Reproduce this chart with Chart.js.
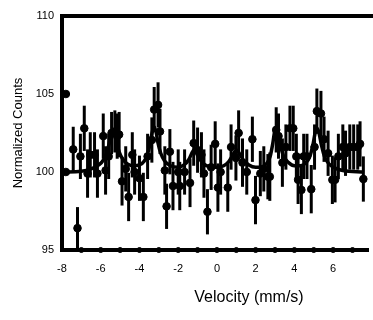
<!DOCTYPE html>
<html>
<head>
<meta charset="utf-8">
<script src="https://cdn.jsdelivr.net/npm/chart.js@4/dist/chart.umd.min.js"></script>
<style>
  html, body { margin: 0; padding: 0; background: #fff; }
  #wrap { width: 373px; height: 320px; }
</style>
</head>
<body>
<div id="wrap"><canvas id="moss" width="373" height="320"></canvas></div>
<script>
// measured points (velocity mm/s, normalized counts, error)
const velocity = [-7.8, -7.8, -7.42, -7.2, -7.05, -6.85, -6.68, -6.54, -6.32, -6.17, -5.87, -5.75, -5.59, -5.44, -5.27, -5.15, -5.05, -4.9, -4.71, -4.56, -4.37, -4.25, -4.0, -3.8, -3.58, -3.36, -3.24, -3.04, -2.94, -2.69, -2.6, -2.43, -2.27, -2.0, -1.92, -1.67, -1.39, -1.2, -1.0, -0.8, -0.67, -0.49, -0.3, -0.09, 0.05, 0.19, 0.56, 0.73, 0.98, 1.12, 1.32, 1.54, 1.83, 1.99, 2.24, 2.42, 2.63, 2.73, 3.06, 3.18, 3.38, 3.56, 3.77, 3.94, 4.1, 4.19, 4.36, 4.48, 4.65, 4.87, 5.04, 5.16, 5.37, 5.53, 5.74, 5.96, 6.1, 6.27, 6.5, 6.64, 6.86, 7.06, 7.27, 7.39, 7.56];
const counts = [105.0, 100.0, 101.45, 96.4, 101.0, 102.8, 99.9, 101.1, 101.1, 99.9, 102.3, 100.1, 101.0, 102.5, 102.6, 102.3, 102.4, 99.4, 100.2, 98.4, 101.1, 100.0, 99.6, 98.4, 101.0, 102.05, 104.0, 104.3, 102.6, 100.1, 97.8, 101.3, 99.1, 100.0, 99.1, 100.0, 99.3, 101.85, 101.4, 101.1, 99.9, 97.45, 100.3, 101.8, 99.0, 100.0, 99.0, 101.6, 100.9, 102.5, 100.6, 100.0, 102.1, 98.2, 99.9, 100.2, 99.7, 99.7, 102.7, 102.3, 100.6, 101.6, 102.8, 102.8, 101.0, 99.5, 98.85, 101.0, 101.0, 98.9, 101.6, 103.9, 103.75, 102.1, 101.2, 99.5, 99.5, 101.0, 101.6, 101.2, 101.6, 101.6, 101.6, 101.8, 99.55];
const countErr = [0, 0, 1.45, 1.35, 1.45, 1.45, 1.55, 1.45, 1.45, 1.55, 1.45, 1.55, 1.45, 1.35, 1.35, 1.45, 1.45, 1.55, 1.45, 1.55, 1.45, 1.45, 1.45, 1.55, 1.45, 1.45, 1.45, 1.45, 1.45, 1.55, 1.45, 1.45, 1.55, 1.45, 1.55, 1.45, 1.55, 1.45, 1.45, 1.45, 1.55, 1.45, 1.45, 1.45, 1.55, 1.45, 1.55, 1.45, 1.45, 1.45, 1.55, 1.45, 1.45, 1.55, 1.45, 1.45, 1.45, 1.55, 1.45, 1.45, 1.55, 1.45, 1.45, 1.45, 1.45, 1.55, 1.55, 1.45, 1.45, 1.55, 1.45, 1.45, 1.45, 1.45, 1.45, 1.55, 1.45, 1.45, 1.45, 1.45, 1.45, 1.45, 1.45, 1.45, 1.45];

// fitted curve
const fitVelocity = [-8, -7.0, -6.5, -6.1, -5.85, -5.65, -5.5, -5.4, -5.3, -5.2, -5.05, -4.85, -4.6, -4.3, -4.0, -3.75, -3.6, -3.45, -3.35, -3.25, -3.15, -3.05, -2.9, -2.7, -2.4, -2.0, -1.7, -1.45, -1.3, -1.2, -1.1, -0.95, -0.75, -0.4, 0.0, 0.35, 0.6, 0.8, 0.95, 1.05, 1.15, 1.35, 1.65, 2.0, 2.35, 2.6, 2.75, 2.88, 2.98, 3.05, 3.15, 3.28, 3.45, 3.7, 4.0, 4.3, 4.6, 4.8, 4.95, 5.07, 5.17, 5.27, 5.4, 5.55, 5.8, 6.1, 6.5, 7.6];
const fitCounts = [100.0, 100.05, 100.2, 100.45, 100.8, 101.4, 102.2, 102.7, 102.6, 102.0, 101.3, 100.8, 100.5, 100.4, 100.45, 100.7, 101.1, 101.8, 102.5, 102.9, 102.6, 101.9, 101.2, 100.7, 100.4, 100.3, 100.45, 100.8, 101.2, 101.4, 101.3, 100.95, 100.6, 100.35, 100.3, 100.4, 100.65, 101.05, 101.35, 101.4, 101.2, 100.8, 100.45, 100.3, 100.35, 100.6, 101.0, 101.8, 102.6, 102.8, 102.5, 101.7, 101.0, 100.6, 100.4, 100.4, 100.6, 101.0, 101.7, 102.5, 102.8, 102.5, 101.7, 101.0, 100.5, 100.25, 100.1, 100.0];

// marker dots along the bottom axis
const baseVelocity = [-7, -6, -5, -4, -3, -2, -1, 0, 1, 2, 3, 4, 5, 6, 7];
const baseCounts = [95, 95, 95, 95, 95, 95, 95, 95, 95, 95, 95, 95, 95, 95, 95];

const toXY = (xs, ys) => xs.map((x, i) => ({ x, y: ys[i] }));

const errorBars = {
  id: 'errorBars',
  beforeDatasetsDraw(chart) {
    const ctx = chart.ctx;
    const meta = chart.getDatasetMeta(0);
    const y = chart.scales.y;
    ctx.save();
    ctx.strokeStyle = '#000';
    ctx.lineWidth = 3;
    meta.data.forEach((pt, i) => {
      const e = countErr[i];
      if (!e) return;
      ctx.beginPath();
      ctx.moveTo(pt.x, y.getPixelForValue(counts[i] - e));
      ctx.lineTo(pt.x, y.getPixelForValue(counts[i] + e));
      ctx.stroke();
    });
    ctx.restore();
  }
};

const frame = {
  id: 'frame',
  afterDraw(chart) {
    const { ctx, chartArea } = chart;
    ctx.save();
    ctx.strokeStyle = '#000';
    ctx.lineWidth = 4;
    ctx.beginPath();
    ctx.moveTo(chartArea.left - 2, chartArea.top);
    ctx.lineTo(chart.width, chartArea.top);
    ctx.stroke();
    ctx.fillStyle = '#000';
    ctx.font = '16px "Liberation Sans", Arial, sans-serif';
    ctx.textAlign = 'center';
    ctx.textBaseline = 'middle';
    ctx.fillText('Velocity (mm/s)', 249, 298);
    ctx.restore();
  }
};

new Chart(document.getElementById('moss').getContext('2d'), {
  type: 'scatter',
  data: {
    datasets: [
      {
        data: toXY(velocity, counts),
        backgroundColor: '#000',
        borderColor: '#000',
        pointRadius: 3.8,
        pointHoverRadius: 3.8,
      },
      {
        type: 'line',
        data: toXY(fitVelocity, fitCounts),
        borderColor: '#000',
        borderWidth: 3.5,
        pointRadius: 0,
        cubicInterpolationMode: 'monotone',
        fill: false,
      },
      {
        data: toXY(baseVelocity, baseCounts),
        backgroundColor: '#000',
        borderColor: '#000',
        pointRadius: 2.5,
        clip: false,
      },
    ],
  },
  options: {
    responsive: false,
    animation: false,
    layout: { padding: { top: 16, right: 0, bottom: 0, left: 0 } },
    plugins: { legend: { display: false }, tooltip: { enabled: false } },
    scales: {
      x: {
        type: 'linear',
        min: -8,
        max: 7.8,
        grid: { display: false, drawTicks: false },
        border: { display: true, width: 4, color: '#000' },
        ticks: {
          stepSize: 2,
          includeBounds: false,
          padding: 12,
          color: '#000',
          font: { family: '"Liberation Sans", Arial, sans-serif', size: 11 },
        },
        afterFit(scale) { scale.height = 70; },
      },
      y: {
        min: 95,
        max: 110,
        grid: { display: false, drawTicks: false },
        border: { display: true, width: 4, color: '#000' },
        ticks: {
          stepSize: 5,
          padding: 8,
          color: '#000',
          font: { family: '"Liberation Sans", Arial, sans-serif', size: 11 },
        },
        title: {
          display: true,
          text: 'Normalized Counts',
          color: '#000',
          padding: { top: 11, bottom: 0 },
          font: { family: '"Liberation Sans", Arial, sans-serif', size: 13 },
        },
        afterFit(scale) { scale.width = 62; },
      },
    },
  },
  plugins: [errorBars, frame],
});
</script>
</body>
</html>
